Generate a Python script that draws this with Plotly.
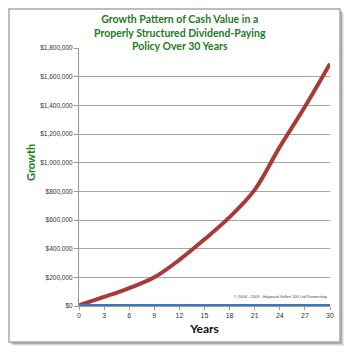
import plotly.graph_objects as go

years = [0, 3, 6, 9, 12, 15, 18, 21, 24, 27, 30]
cash_value = [5000, 63000, 125000, 200000, 322000, 465000, 620000, 810000, 1110000, 1390000, 1690000]
baseline = [0, 0, 0, 0, 0, 0, 0, 0, 0, 0, 0]
x_ticks = [0, 3, 6, 9, 12, 15, 18, 21, 24, 27, 30]
y_ticks = [0, 200000, 400000, 600000, 800000, 1000000, 1200000, 1400000, 1600000, 1800000]
y_tick_labels = ["$" + format(v, ",") for v in y_ticks]

fig = go.Figure()
fig.add_trace(go.Scatter(x=years, y=cash_value, mode="lines",
                         line=dict(color="#a83b38", width=4, shape="spline", smoothing=1.0),
                         cliponaxis=False, showlegend=False))
fig.add_trace(go.Scatter(x=years, y=baseline, mode="lines",
                         line=dict(color="#3d7ab5", width=4),
                         cliponaxis=False, showlegend=False))

W, H = 352, 357
L, R, T, B = 79, 22, 48, 51
pw, ph = W - L - R, H - T - B
def px(x):
    return (x - L) / pw
def py(y):
    return (H - B - y) / ph

shapes = []
for i, a in enumerate([0.10, 0.18, 0.28]):
    off = 4 - i
    shapes.append(dict(type="rect", xref="paper", yref="paper", layer="below",
                       x0=px(9 + off), x1=px(340 + off), y0=py(342 + off), y1=py(9 + off),
                       line=dict(width=0), fillcolor=f"rgba(80,80,80,{a})"))
shapes.append(dict(type="rect", xref="paper", yref="paper", layer="below",
                   x0=px(9), x1=px(340), y0=py(342), y1=py(9),
                   line=dict(color="#a8a8a8", width=1.5), fillcolor="white"))
fig.update_layout(shapes=shapes)

fig.add_annotation(text="Growth Pattern of Cash Value in a<br>Properly Structured Dividend-Paying<br>Policy Over 30 Years",
                   xref="paper", yref="paper", x=px(180), y=py(11), xanchor="center", yanchor="top",
                   showarrow=False, align="center",
                   font=dict(family="Lato", size=10.5, color="#1e7a1e", weight="bold"))
fig.add_annotation(text="Growth", textangle=-90,
                   xref="paper", yref="paper", x=px(30), y=py(163), xanchor="center", yanchor="middle",
                   showarrow=False,
                   font=dict(family="Lato", size=11, color="#1e7a1e", weight="bold"))
fig.add_annotation(text="© 2004 - 2009 - Hayward-Vellen 100 Ltd Partnership",
                   xref="paper", yref="paper", x=px(330), y=py(296), xanchor="right", yanchor="middle",
                   showarrow=False, font=dict(family="Liberation Sans", size=4, color="#444"))

fig.update_layout(
    width=W, height=H,
    margin=dict(l=L, r=R, t=T, b=B),
    paper_bgcolor="white", plot_bgcolor="white",
    xaxis=dict(range=[0, 30], tickvals=x_ticks, showgrid=False, zeroline=False,
               ticks="outside", ticklen=3, tickcolor="#999",
               showline=True, linecolor="#999",
               tickfont=dict(family="Liberation Sans", size=7, color="#333"),
               title=dict(text="Years", standoff=6,
                          font=dict(family="Lato", size=12, color="#111", weight="bold"))),
    yaxis=dict(range=[0, 1800000], tickvals=y_ticks, ticktext=y_tick_labels,
               showgrid=True, gridcolor="#a6a6a6", gridwidth=1, zeroline=False,
               ticks="outside", ticklen=4, tickcolor="#999",
               showline=True, linecolor="#999",
               tickfont=dict(family="Liberation Sans", size=6.5, color="#333")),
)

fig.write_html("out.html")
